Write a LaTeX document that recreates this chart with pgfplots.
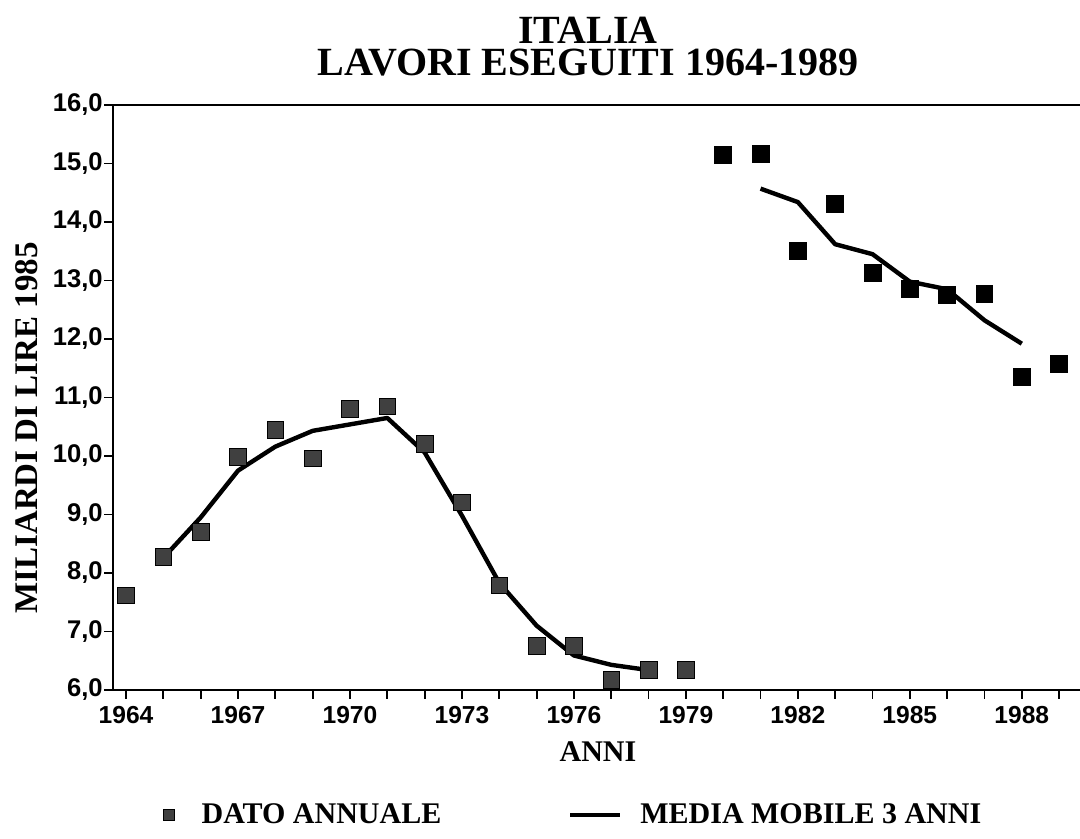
\documentclass[border=0pt]{standalone}
\usepackage{fontspec}
\setmainfont{Liberation Serif}
\setsansfont{Liberation Sans}
\usepackage{pgfplots}
\pgfplotsset{compat=1.18}
\begin{document}
\begin{tikzpicture}
\useasboundingbox (0,0) rectangle (540pt,419.5pt);
\begin{axis}[
  at={(56.5pt,74.5pt)}, anchor=south west,
  scale only axis, width=483.5pt, height=292.5pt,
  xmin=1963.65, xmax=1989.56, ymin=6, ymax=16,
  axis lines=left, axis line style={-, line width=1.2pt},
  clip=false,
  tick align=outside, major tick length=4.5pt, minor tick length=4.5pt,
  tick style={black, line width=0.9pt},
  xtick={1964,1967,...,1988}, minor xtick={1965,1966,...,1989},
  ytick={6,7,...,16},
  /pgf/number format/assume math mode=true,
  x tick label style={font=\fontsize{12.3}{14}\selectfont\sffamily\bfseries, /pgf/number format/1000 sep={}},
  y tick label style={font=\fontsize{12.8}{14}\selectfont\sffamily\bfseries, /pgf/number format/fixed, /pgf/number format/fixed zerofill, /pgf/number format/precision=1, /pgf/number format/use comma, inner sep=0.5pt},
  legend style={at={(0.0517,-0.2137)}, anchor=west, draw=none, fill=none, inner sep=0pt, outer sep=0pt,
    legend columns=2, font=\fontsize{15}{17}\selectfont\bfseries, nodes={inner sep=0pt},
    /tikz/column 1/.style={column sep=13.5pt}, /tikz/column 2/.style={column sep=63.5pt}, /tikz/column 3/.style={column sep=9pt}},
  legend cell align=left,
]
\addplot[only marks, mark=square*, mark size=4.2pt, mark options={fill=black!75, draw=black, line width=0.3pt},
  legend image code/.code={\node[draw=black, fill=black!75, line width=0.3pt, minimum size=5.5pt, inner sep=0pt] at (0pt,0pt) {};}]
coordinates {
(1964,7.62) (1965,8.28) (1966,8.70) (1967,9.99) (1968,10.45) (1969,9.96) (1970,10.81) (1971,10.85)
(1972,10.21) (1973,9.21) (1974,7.79) (1975,6.75) (1976,6.75) (1977,6.18) (1978,6.34) (1979,6.34)
};
\addlegendentry{DATO ANNUALE}
\addplot[only marks, mark=square*, mark size=4.2pt, mark options={fill=black, draw=black}, forget plot]
coordinates {
(1980,15.15) (1981,15.17) (1982,13.50) (1983,14.31) (1984,13.13) (1985,12.85) (1986,12.76) (1987,12.77)
(1988,11.35) (1989,11.57)
};
\addplot[black, line width=2.2pt, line join=round, mark=none, forget plot]
coordinates {
(1965,8.26) (1966,8.95) (1967,9.75) (1968,10.16) (1969,10.43) (1970,10.54) (1971,10.65) (1972,10.06)
(1973,8.98) (1974,7.83) (1975,7.10) (1976,6.59) (1977,6.43) (1978,6.34)
};
\addplot[black, line width=2.2pt, line join=round, mark=none,
  legend image code/.code={\draw[black, line width=2pt] (0pt,0pt) -- (25pt,0pt);}]
coordinates {
(1981,14.57) (1982,14.34) (1983,13.62) (1984,13.45) (1985,12.98) (1986,12.85) (1987,12.32) (1988,11.92)
};
\addlegendentry{MEDIA MOBILE 3 ANNI}
\draw[line width=1pt] (rel axis cs:0,1) -- (rel axis cs:1,1);
\end{axis}
\node[anchor=south, inner sep=0pt, align=center, font=\fontsize{20}{16}\selectfont\bfseries] at (294pt,381pt) {ITALIA\\LAVORI ESEGUITI 1964-1989};
\node[rotate=90, inner sep=0pt, font=\fontsize{16.5}{18}\selectfont\bfseries] at (13.3pt,205.5pt) {MILIARDI DI LIRE 1985};
\node[anchor=base, font=\fontsize{15}{17}\selectfont\bfseries] at (299pt,38.5pt) {ANNI};
\end{tikzpicture}
\end{document}
